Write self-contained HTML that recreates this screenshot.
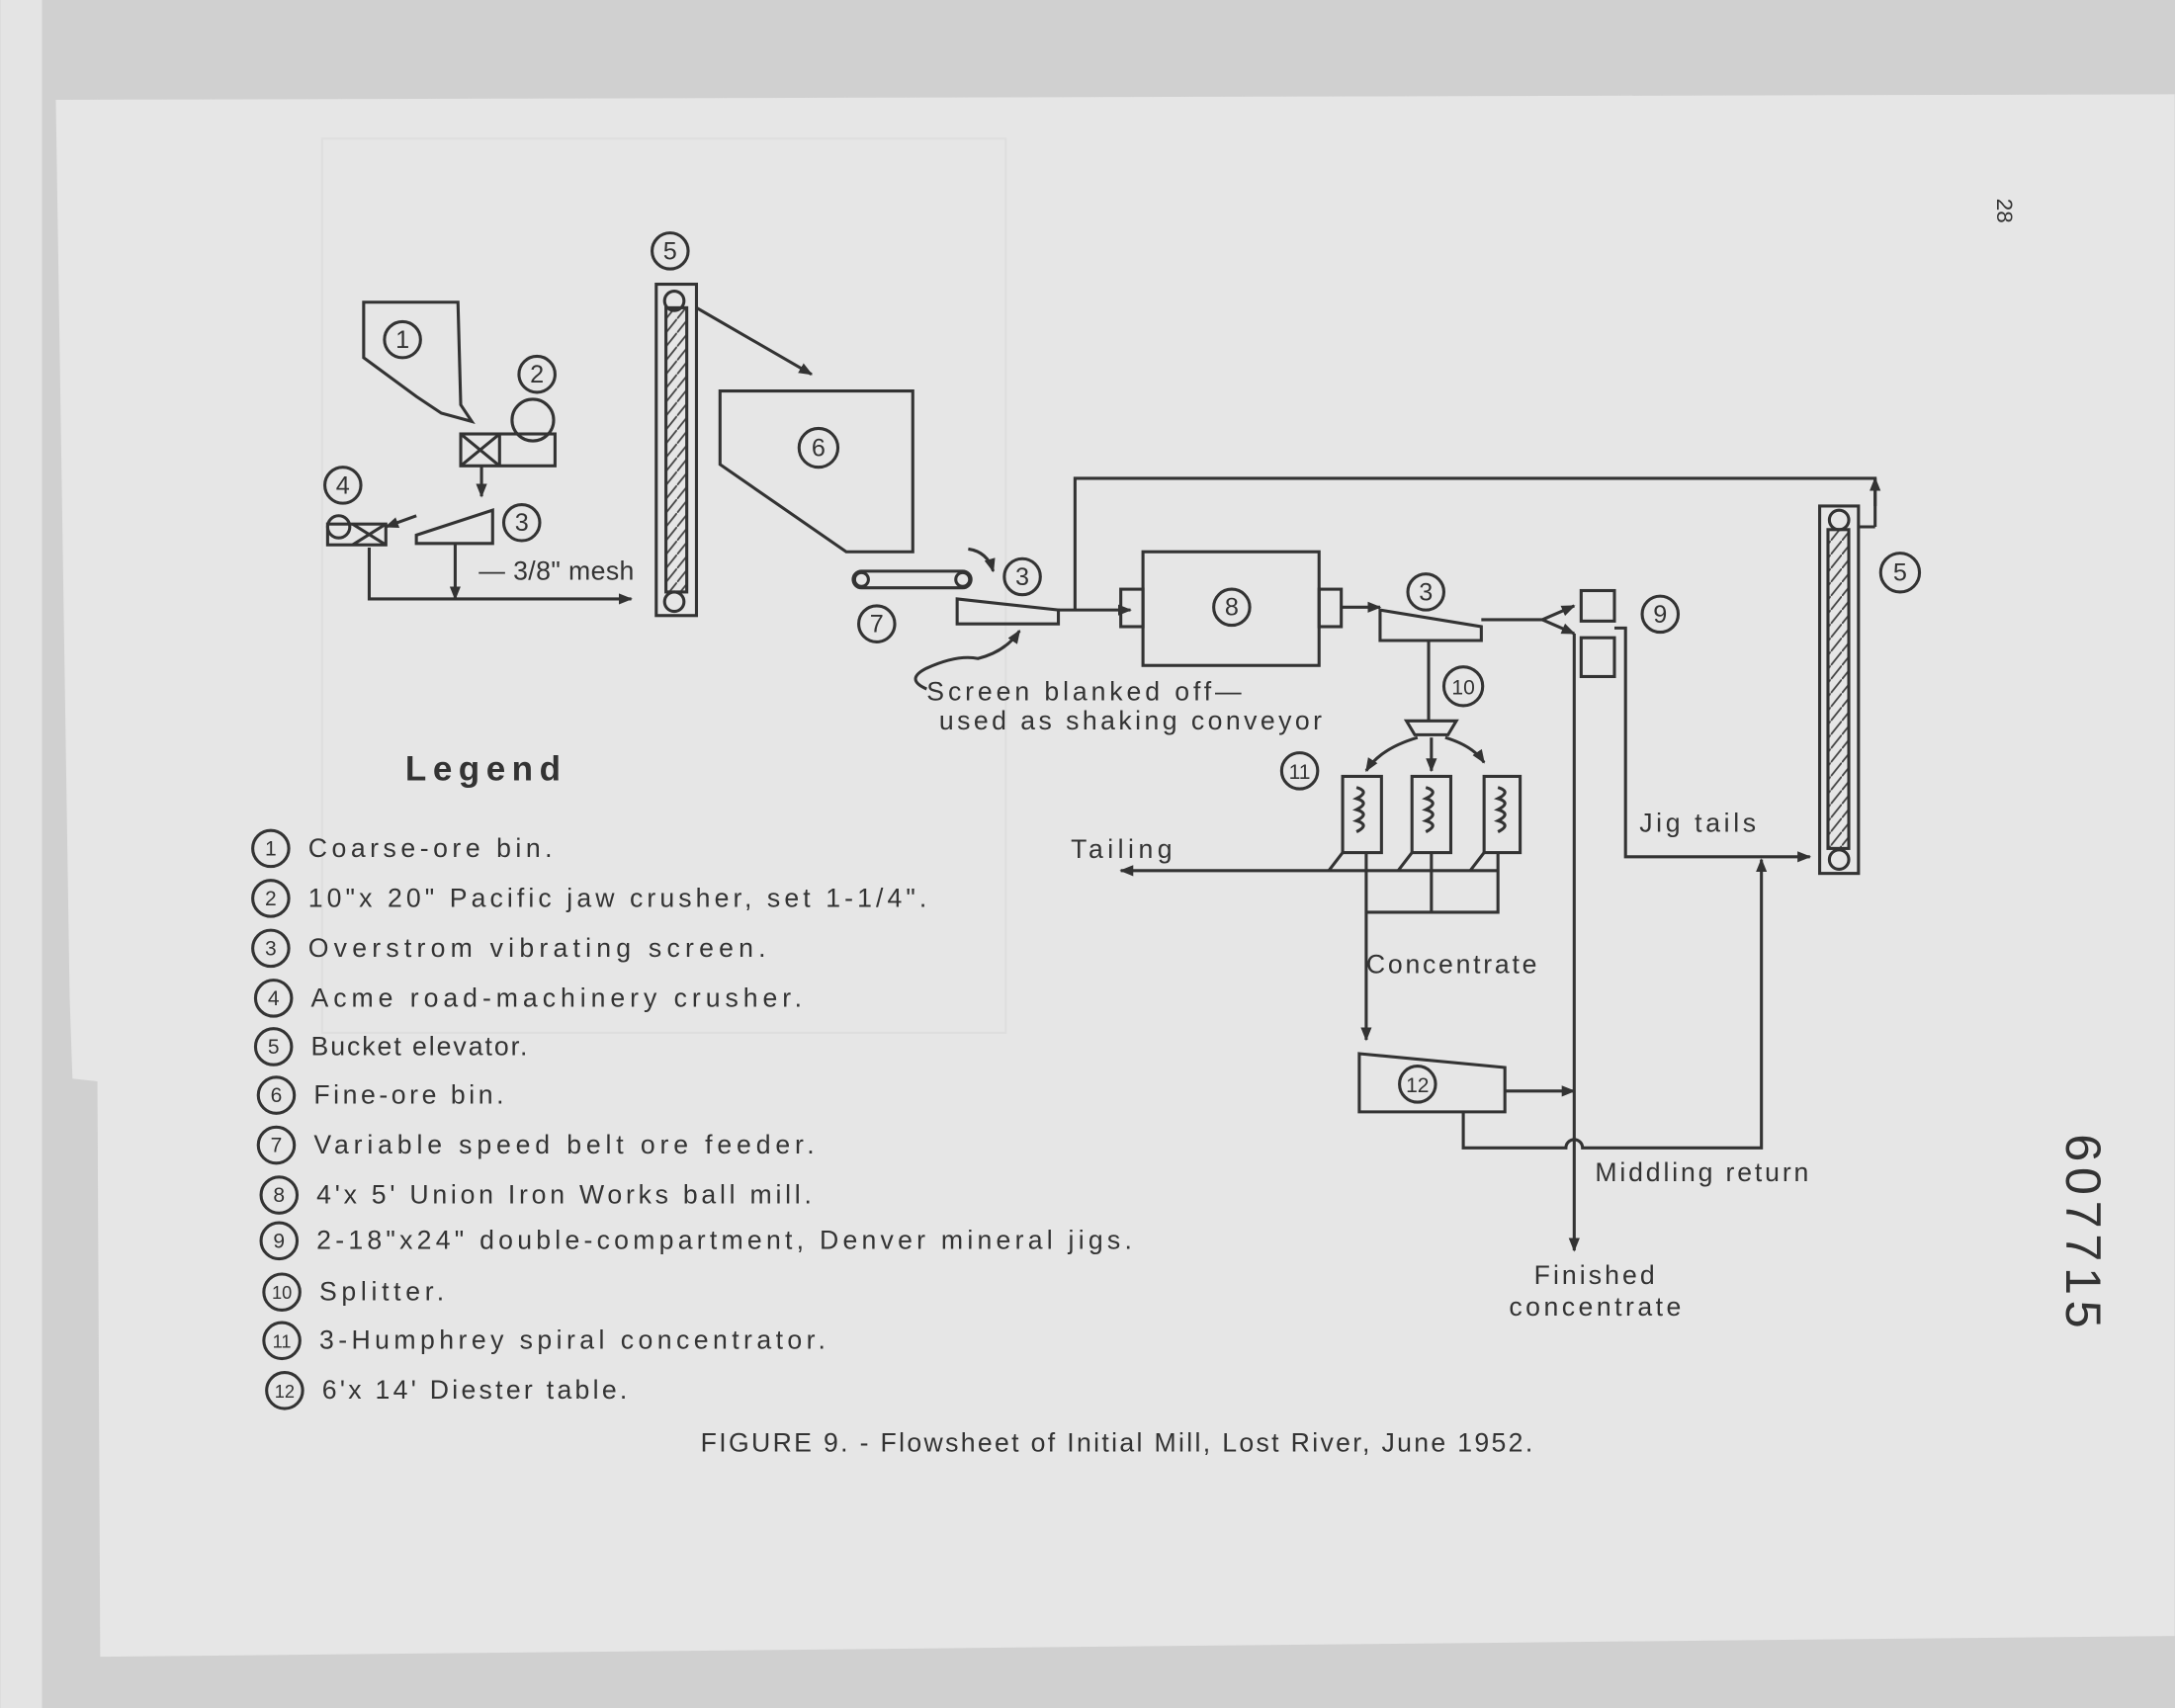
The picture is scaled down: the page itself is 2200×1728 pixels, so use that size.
<!DOCTYPE html>
<html><head><meta charset="utf-8">
<style>
html,body{margin:0;padding:0;width:2200px;height:1728px;overflow:hidden;background:#d2d2d2}
svg{display:block}
text{font-family:"Liberation Sans",sans-serif;fill:#333}
</style></head><body>
<svg width="2200" height="1728" viewBox="0 0 1568 1232" xmlns="http://www.w3.org/2000/svg">
<defs>
<marker id="a" markerWidth="10" markerHeight="10" refX="9" refY="5" orient="auto" markerUnits="userSpaceOnUse">
<path d="M0,1 L10,5 L0,9 Z" fill="#333"/></marker>
<pattern id="h" width="8" height="10" patternUnits="userSpaceOnUse">
<path d="M0,10 L8,0" stroke="#444" stroke-width="1.3"/></pattern>
</defs>
<rect x="0" y="0" width="1568" height="1232" fill="#d0d0d0"/>
<rect x="0" y="0" width="30" height="1232" fill="#e4e4e4"/>
<polygon points="40,72 1568,68 1568,1180 72,1195 70,780 52,778 50,720" fill="#e6e6e6"/>
<rect x="232" y="100" width="493" height="645" fill="none" stroke="#dedede" stroke-width="1.5"/>
<g stroke="#333" stroke-width="2.2" fill="none">
<polygon points="262,218 330,218 332,292 340,304 318,298 300,286 262,258"/>
<circle cx="290" cy="245" r="13"/>
<rect x="332" y="313" width="68" height="23"/>
<line x1="360" y1="313" x2="360" y2="336"/>
<path d="M332,313 L360,336 M360,313 L332,336"/>
<circle cx="384" cy="303" r="15"/>
<circle cx="387" cy="270" r="13"/>
<line x1="347" y1="336" x2="347" y2="358" marker-end="url(#a)"/>
<polygon points="300,386 355,368 355,392 300,392"/>
<circle cx="376" cy="377" r="13"/>
<line x1="300" y1="372" x2="278" y2="380" marker-end="url(#a)"/>
<rect x="236" y="378" width="42" height="15"/>
<path d="M254,378 L278,393 M278,378 L254,393"/>
<circle cx="244" cy="380" r="8"/>
<circle cx="247" cy="350" r="13"/>
<path d="M266,395 V432 H455" marker-end="url(#a)"/>
<line x1="328" y1="392" x2="328" y2="432" marker-end="url(#a)"/>
<rect x="473" y="205" width="29" height="239"/>
<rect x="480" y="222" width="15" height="205" fill="url(#h)"/>
<circle cx="486" cy="217" r="7"/><circle cx="486" cy="434" r="7"/>
<circle cx="483" cy="181" r="13"/>
<line x1="502" y1="222" x2="585" y2="270" marker-end="url(#a)"/>
<polygon points="519,282 658,282 658,398 610,398 519,335"/>
<circle cx="590" cy="323" r="14"/>
<rect x="615" y="412" width="85" height="12" rx="6"/>
<circle cx="621" cy="418" r="5"/><circle cx="694" cy="418" r="5"/>
<circle cx="632" cy="450" r="13"/>
<path d="M698,396 Q712,398 716,412" marker-end="url(#a)"/>
<polygon points="690,432 763,440 763,450 690,450"/>
<circle cx="737" cy="416" r="13"/>
<line x1="763" y1="440" x2="815" y2="440" marker-end="url(#a)"/>
<path d="M668,497 Q652,490 668,482 Q690,472 705,475 Q725,470 735,455" marker-end="url(#a)"/>
<rect x="824" y="398" width="127" height="82"/>
<rect x="808" y="425" width="16" height="27"/>
<rect x="951" y="425" width="16" height="27"/>
<circle cx="888" cy="438" r="13"/>
<line x1="967" y1="438" x2="995" y2="438" marker-end="url(#a)"/>
<polygon points="995,440 1068,452 1068,462 995,462"/>
<circle cx="1028" cy="427" r="13"/>
<path d="M775,440 V345 H1352 V380"/>
<line x1="1352" y1="365" x2="1352" y2="345" marker-end="url(#a)"/>
<line x1="1340" y1="380" x2="1352" y2="380"/>
<path d="M1068,447 H1112 L1135,437" marker-end="url(#a)"/>
<path d="M1112,447 L1135,457" marker-end="url(#a)"/>
<rect x="1140" y="426" width="24" height="22"/>
<rect x="1140" y="460" width="24" height="28"/>
<path d="M1164,453 H1172 V488"/>
<circle cx="1197" cy="443" r="13"/>
<line x1="1135" y1="457" x2="1135" y2="902" marker-end="url(#a)"/>
<path d="M1172,488 V618 H1305" marker-end="url(#a)"/>
<rect x="1312" y="365" width="28" height="265"/>
<rect x="1318" y="382" width="15" height="230" fill="url(#h)"/>
<circle cx="1326" cy="375" r="7"/><circle cx="1326" cy="620" r="7"/>
<circle cx="1370" cy="413" r="14"/>
<line x1="1030" y1="462" x2="1030" y2="520"/>
<circle cx="1055" cy="495" r="14"/>
<path d="M1014,520 H1050 L1044,530 H1020 Z"/>
<path d="M1022,532 Q995,540 985,556" marker-end="url(#a)"/>
<line x1="1032" y1="532" x2="1032" y2="556" marker-end="url(#a)"/>
<path d="M1042,532 Q1062,538 1070,550" marker-end="url(#a)"/>
<circle cx="937" cy="556" r="13"/>
<rect x="968" y="560" width="28" height="55"/>
<rect x="1018" y="560" width="28" height="55"/>
<rect x="1070" y="560" width="26" height="55"/>
<path d="M978,568 q10,3 0,8 q10,3 0,8 q10,3 0,8 q10,3 0,8 M1028,568 q10,3 0,8 q10,3 0,8 q10,3 0,8 q10,3 0,8 M1080,568 q10,3 0,8 q10,3 0,8 q10,3 0,8 q10,3 0,8"/>
<line x1="1080" y1="628" x2="808" y2="628" marker-end="url(#a)"/>
<path d="M968,615 L958,628 M1018,615 L1008,628 M1070,615 L1060,628"/>
<path d="M985,615 V750" marker-end="url(#a)"/>
<path d="M1032,615 V658 M1080,615 V658 H985"/>
<polygon points="980,760 1085,770 1085,802 980,802"/>
<circle cx="1022" cy="782" r="13"/>
<line x1="1085" y1="787" x2="1135" y2="787" marker-end="url(#a)"/>
<path d="M1055,802 V828 H1129 A6,6 0 0 1 1141,828 H1270 V620" marker-end="url(#a)"/>
<circle cx="195" cy="612" r="13"/><circle cx="195" cy="648" r="13"/><circle cx="195" cy="684" r="13"/>
<circle cx="197" cy="720" r="13"/><circle cx="197" cy="755" r="13"/><circle cx="199" cy="790" r="13"/>
<circle cx="199" cy="826" r="13"/><circle cx="201" cy="862" r="13"/><circle cx="201" cy="895" r="13"/>
<circle cx="203" cy="932" r="13"/><circle cx="203" cy="967" r="13"/><circle cx="205" cy="1003" r="13"/>
</g>
<g font-size="18" text-anchor="middle">
<text x="290" y="251">1</text><text x="387" y="276">2</text><text x="376" y="383">3</text>
<text x="247" y="356">4</text><text x="483" y="187">5</text><text x="590" y="329">6</text>
<text x="632" y="456">7</text><text x="737" y="422">3</text><text x="888" y="444">8</text>
<text x="1028" y="433">3</text><text x="1197" y="449">9</text><text x="1370" y="419">5</text>
<text x="1055" y="501" font-size="15">10</text><text x="937" y="562" font-size="15">11</text>
<text x="1022" y="788" font-size="15">12</text>
</g>
<g font-size="19" lengthAdjust="spacing">
<text x="345" y="418" textLength="112">— 3/8" mesh</text>
<text x="668" y="505" textLength="227">Screen blanked off—</text>
<text x="677" y="526" textLength="276">used as shaking conveyor</text>
<text x="772" y="619" textLength="73">Tailing</text>
<text x="1182" y="600" textLength="84">Jig tails</text>
<text x="985" y="702" textLength="123">Concentrate</text>
<text x="1150" y="852" textLength="154">Middling return</text>
<text x="1106" y="926" textLength="87">Finished</text>
<text x="1088" y="949" textLength="124">concentrate</text>
<text x="292" y="563" font-size="25" font-weight="bold" textLength="112">Legend</text>
</g>
<g font-size="19" lengthAdjust="spacing">
<text x="222" y="618" textLength="176">Coarse-ore bin.</text>
<text x="222" y="654" textLength="446">10"x 20" Pacific  jaw  crusher, set 1-1/4".</text>
<text x="222" y="690" textLength="330">Overstrom  vibrating  screen.</text>
<text x="224" y="726" textLength="354">Acme road-machinery crusher.</text>
<text x="224" y="761" textLength="156">Bucket  elevator.</text>
<text x="226" y="796" textLength="137">Fine-ore  bin.</text>
<text x="226" y="832" textLength="361">Variable speed belt ore feeder.</text>
<text x="228" y="868" textLength="357">4'x 5' Union Iron Works ball mill.</text>
<text x="228" y="901" textLength="588">2-18"x24" double-compartment, Denver mineral jigs.</text>
<text x="230" y="938" textLength="90">Splitter.</text>
<text x="230" y="973" textLength="365">3-Humphrey spiral concentrator.</text>
<text x="232" y="1009" textLength="220">6'x 14' Diester  table.</text>
</g>
<g font-size="15" text-anchor="middle">
<text x="195" y="617">1</text><text x="195" y="653">2</text><text x="195" y="689">3</text>
<text x="197" y="725">4</text><text x="197" y="760">5</text><text x="199" y="795">6</text>
<text x="199" y="831">7</text><text x="201" y="867">8</text><text x="201" y="900">9</text>
<text x="203" y="937" font-size="13">10</text><text x="203" y="972" font-size="13">11</text><text x="205" y="1008" font-size="13">12</text>
</g>
<text x="505" y="1047" font-size="19" textLength="600" lengthAdjust="spacing">FIGURE 9. - Flowsheet of Initial Mill, Lost River, June 1952.</text>
<text transform="translate(1440,152) rotate(90)" font-size="16" text-anchor="middle">28</text>
<text transform="translate(1490,890) rotate(90)" font-size="36" text-anchor="middle" letter-spacing="4">607715</text>
</svg>
</body></html>
